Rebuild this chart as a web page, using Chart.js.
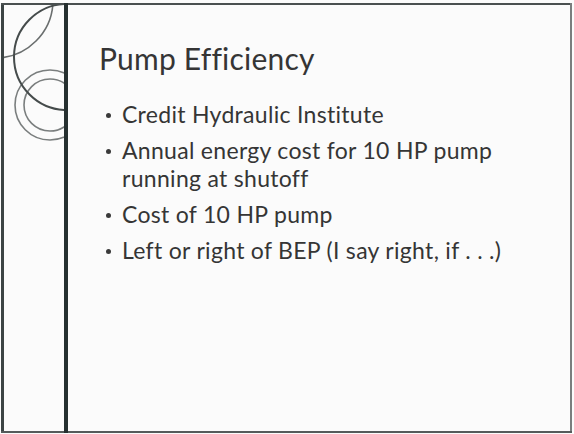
<!DOCTYPE html>
<html>
<head>
<meta charset="utf-8">
<script src="https://cdn.jsdelivr.net/npm/chart.js@4/dist/chart.umd.min.js"></script>
<style>
  html, body { margin: 0; padding: 0; background: #fdfdfd; }
  #slide {
    position: relative;
    width: 574px;
    height: 434px;
    overflow: hidden;
    background: #fbfbfb;
    font-family: Lato, "Open Sans", sans-serif;
    color: #353535;
  }
  /* outer frame */
  .frame-l { position: absolute; left: 1px; top: 3px; width: 3px; height: 430px; background: #3c4444; }
  .frame-t { position: absolute; left: 1px; top: 3px; width: 571px; height: 2px; background: #4a5050; }
  .frame-r { position: absolute; left: 570px; top: 3px; width: 2px; height: 430px; background: #7a7e7e; }
  .frame-b { position: absolute; left: 1px; top: 431px; width: 571px; height: 2px; background: #555b5b; }
  .rule { position: absolute; left: 64px; top: 3px; width: 4px; height: 430px; background: #263030; }
  #ornament { position: absolute; left: 4px; top: 5px; width: 60px; height: 426px; }
  #title {
    position: absolute; left: 99px; top: 40px;
    font-size: 30px; line-height: 36px; letter-spacing: 0.2px; white-space: nowrap;
  }
  #bullets {
    position: absolute; left: 122px; top: 100px; width: 410px;
    margin: 0; padding: 0; list-style: none;
    font-size: 23px; line-height: 28px; letter-spacing: 0.3px;
  }
  #bullets li { position: relative; margin-bottom: 8px; }
  #bullets li::before {
    content: ""; position: absolute; left: -16px; top: 13px;
    width: 5px; height: 5px; border-radius: 50%; background: #3a3a3a;
  }
</style>
</head>
<body>
<div id="slide">
  <div id="ornament"><canvas id="ornamentChart"></canvas></div>
  <div class="frame-l"></div>
  <div class="frame-t"></div>
  <div class="frame-r"></div>
  <div class="frame-b"></div>
  <div class="rule"></div>
  <div id="title"></div>
  <ul id="bullets"></ul>
</div>
<script>
// Slide text
const slideTitle = 'Pump Efficiency';
const bulletItems = [
  'Credit Hydraulic Institute',
  'Annual energy cost for 10 HP pump running at shutoff',
  'Cost of 10 HP pump',
  'Left or right of BEP (I say right, if . . .)'
];

// Ornament circles in the left strip (slide pixels)
const ringX = [67, -5, 50, 50];
const ringY = [57, 0, 105, 105];
const ringR = [53, 58, 35, 26];
const ringColors = ['#454b4b', '#6a6e6e', '#7a7e7e', '#7a7e7e'];
const ringWidths = [2, 1.6, 1.6, 1.6];

document.getElementById('title').textContent = slideTitle;
const list = document.getElementById('bullets');
bulletItems.forEach(text => {
  const li = document.createElement('li');
  li.textContent = text;
  list.appendChild(li);
});

const canvas = document.getElementById('ornamentChart');
new Chart(canvas, {
  type: 'bubble',
  data: {
    datasets: ringX.map((x, i) => ({
      data: [{ x: x, y: ringY[i], r: ringR[i] }],
      backgroundColor: 'rgba(0,0,0,0)',
      borderColor: ringColors[i],
      borderWidth: ringWidths[i],
      clip: 0
    }))
  },
  options: {
    responsive: true,
    maintainAspectRatio: false,
    devicePixelRatio: 1,
    animation: false,
    events: [],
    layout: { padding: 0, autoPadding: false },
    plugins: {
      legend: { display: false },
      tooltip: { enabled: false }
    },
    scales: {
      x: { type: 'linear', display: false, min: 4, max: 64 },
      y: { type: 'linear', display: false, min: 5, max: 431, reverse: true }
    }
  }
});
</script>
</body>
</html>
